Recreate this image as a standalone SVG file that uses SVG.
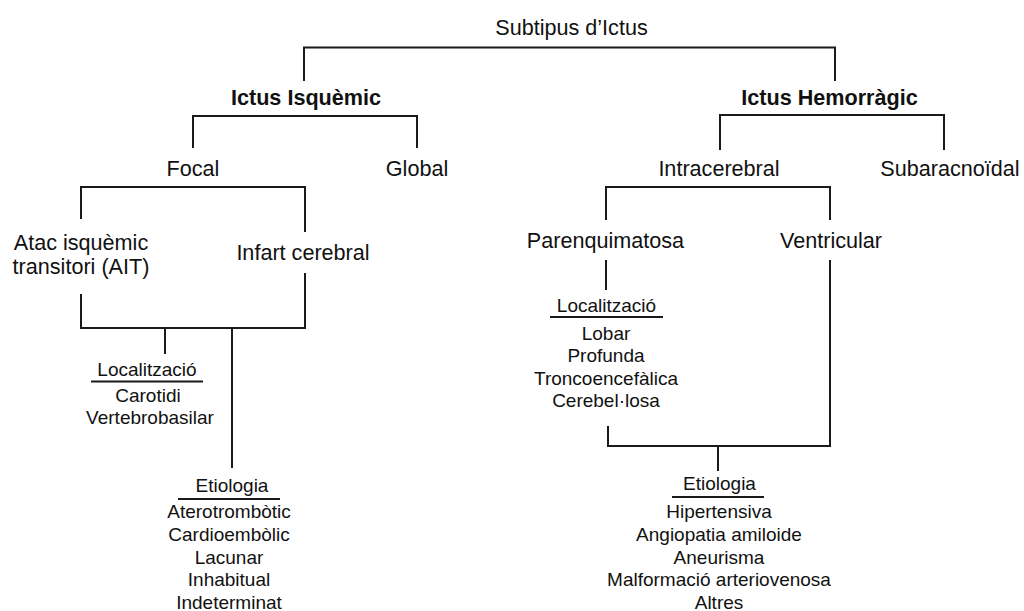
<svg xmlns="http://www.w3.org/2000/svg" width="1024" height="611" viewBox="0 0 1024 611">
  <style>
    .bg { fill: #ffffff; }
    .lbl { font-family: "Liberation Sans", Arial, sans-serif; font-size: 21.6px; fill: #111111; text-anchor: middle; }
    .hd { font-weight: bold; }
    .sm { font-family: "Liberation Sans", Arial, sans-serif; font-size: 19px; fill: #111111; text-anchor: middle; }
    .ln { fill: none; stroke: #1a1a1a; stroke-width: 2; stroke-linecap: butt; stroke-linejoin: miter; }
  </style>
  <rect class="bg" x="0" y="0" width="1024" height="611"/>

  <!-- tree connectors -->
  <g id="connectors">
    <!-- root split -->
    <path class="ln" d="M304 81 V47.5 H835 V81"/>
    <!-- ischaemic split -->
    <path class="ln" d="M193 148 V116 H417 V148"/>
    <!-- haemorrhagic split -->
    <path class="ln" d="M720 150 V115 H944 V150"/>
    <!-- focal split -->
    <path class="ln" d="M81 219 V187 H305 V232"/>
    <!-- AIT / infart join -->
    <path class="ln" d="M81 294 V328 H305 V273"/>
    <path class="ln" d="M165 328 V354"/>
    <path class="ln" d="M232 328 V468"/>
    <!-- intracerebral split -->
    <path class="ln" d="M606 220 V187 H830 V220"/>
    <path class="ln" d="M606 260 V290"/>
    <!-- parenchymal / ventricular join -->
    <path class="ln" d="M608 426 V446 H830 V260"/>
    <path class="ln" d="M718 446 V471"/>
    <!-- header underlines -->
    <path class="ln" d="M91 381.5 H203"/>
    <path class="ln" d="M178 499 H280"/>
    <path class="ln" d="M550 317 H663"/>
    <path class="ln" d="M672 497 H764"/>
  </g>

  <g id="root"><text class="lbl" x="571.5" y="35">Subtipus d’Ictus</text></g>
  <g id="isquemic"><text class="lbl hd" x="306" y="105">Ictus Isquèmic</text></g>
  <g id="hemorragic"><text class="lbl hd" x="829.5" y="105">Ictus Hemorràgic</text></g>

  <g id="focal"><text class="lbl" x="193" y="176">Focal</text></g>
  <g id="global"><text class="lbl" x="417" y="176">Global</text></g>
  <g id="intracerebral"><text class="lbl" x="719" y="176">Intracerebral</text></g>
  <g id="subaracnoidal"><text class="lbl" x="950" y="176">Subaracnoïdal</text></g>

  <g id="ait">
    <text class="lbl" x="81" y="250">Atac isquèmic</text>
    <text class="lbl" x="81" y="274">transitori (AIT)</text>
  </g>
  <g id="infart"><text class="lbl" x="303" y="260">Infart cerebral</text></g>
  <g id="parenquimatosa"><text class="lbl" x="605.5" y="248">Parenquimatosa</text></g>
  <g id="ventricular"><text class="lbl" x="831" y="248">Ventricular</text></g>

  <g id="localitzacio-isq">
    <text class="sm" x="147" y="375.5">Localització</text>
    <text class="sm" x="148" y="402">Carotidi</text>
    <text class="sm" x="150" y="423.5">Vertebrobasilar</text>
  </g>

  <g id="etiologia-isq">
    <text class="sm" x="232" y="492">Etiologia</text>
    <text class="sm" x="229" y="518">Aterotrombòtic</text>
    <text class="sm" x="229" y="540.5">Cardioembòlic</text>
    <text class="sm" x="229" y="563.5">Lacunar</text>
    <text class="sm" x="229" y="586">Inhabitual</text>
    <text class="sm" x="229" y="608.5">Indeterminat</text>
  </g>

  <g id="localitzacio-hem">
    <text class="sm" x="606.5" y="311.5">Localització</text>
    <text class="sm" x="606" y="340">Lobar</text>
    <text class="sm" x="606" y="362">Profunda</text>
    <text class="sm" x="606" y="385">Troncoencefàlica</text>
    <text class="sm" x="606" y="407">Cerebel·losa</text>
  </g>

  <g id="etiologia-hem">
    <text class="sm" x="719.5" y="490">Etiologia</text>
    <text class="sm" x="719" y="518">Hipertensiva</text>
    <text class="sm" x="719" y="540.5">Angiopatia amiloide</text>
    <text class="sm" x="719" y="563.5">Aneurisma</text>
    <text class="sm" x="719" y="586">Malformació arteriovenosa</text>
    <text class="sm" x="719" y="608.5">Altres</text>
  </g>
</svg>
